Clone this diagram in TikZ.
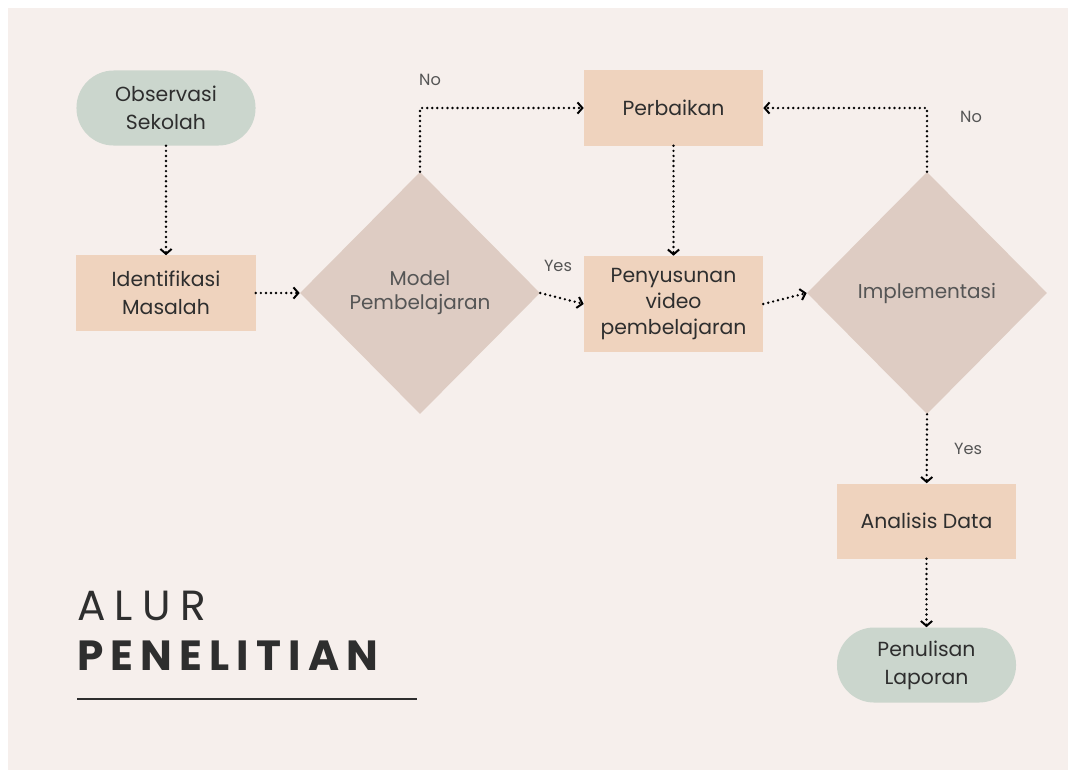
\documentclass[tikz,border=0pt]{standalone}
\usepackage{fontspec}
\setmainfont{Poppins}
\newfontfamily\titulo[LetterSpace=17]{Poppins}
\newfontfamily\tituloa[LetterSpace=22]{Poppins}
\usetikzlibrary{shapes.geometric,arrows.meta}
\definecolor{fondo}{HTML}{F6EFEC}
\definecolor{salvia}{HTML}{CBD6CD}
\definecolor{durazno}{HTML}{EFD3BE}
\definecolor{rosa}{HTML}{DECCC3}
\definecolor{tinta}{HTML}{2E2E2E}
\definecolor{gris}{HTML}{555555}

\begin{document}
\begin{tikzpicture}[
      x=0.025cm, y=-0.025cm,
      caja/.style={fill=durazno, align=center, text=tinta,
                   font=\fontsize{14.5}{20}\selectfont,
                   minimum width=4.475cm, minimum height=1.875cm, inner sep=2pt},
      pildora/.style={caja, fill=salvia, rounded corners=0.93cm},
      rombo/.style={diamond, aspect=1, fill=rosa, align=center, text=gris,
                    font=\fontsize{14.2}{17}\selectfont,
                    minimum width=6cm, minimum height=6.05cm, inner sep=0pt},
      flecha/.style={line width=1.9pt, line cap=round, dash pattern=on 0pt off 3.6pt,
                     -{Straight Barb[length=3.5pt, width=8pt, line width=1.4pt]}},
      etiq/.style={text=gris, font=\fontsize{11.5}{14}\selectfont, inner sep=1pt}
    ]
    \useasboundingbox[fill=white] (0,0) rectangle (1076,778);
    \fill[fondo] (8,8) rectangle (1068,770);

    \node[pildora] (obs)  at (166,108)   {Observasi\\Sekolah};
    \node[caja]    (iden) at (166,293)   {Identifikasi\\Masalah};
    \node[rombo]   (model) at (420,293)  {Model\\Pembelajaran};
    \node[caja]    (perb) at (673.5,108) {Perbaikan};
    \node[caja, minimum height=2.4cm, font=\fontsize{14.5}{18.5}\selectfont]
                   (peny) at (673.5,304) {Penyusunan\\video\\pembelajaran};
    \node[rombo]   (impl) at (927,293)   {Implementasi};
    \node[caja]    (anal) at (926.5,521) {Analisis Data};
    \node[pildora] (lap)  at (926.5,665) {Penulisan\\Laporan};

    \node[etiq] (no1)  at (430,80)  {No};
    \node[etiq] (yes1) at (558,266) {Yes};
    \node[etiq] (no2)  at (971,117) {No};
    \node[etiq] (yes2) at (968,449) {Yes};

    \draw[flecha] (obs) -- (iden);
    \draw[flecha] (iden) -- (model);
    \draw[flecha] (model.east) -- (peny.west);
    \draw[flecha] (model.north) |- (perb.west);
    \draw[flecha] (perb) -- (peny);
    \draw[flecha] (peny.east) -- (impl.west);
    \draw[flecha] (impl.north) |- (perb.east);
    \draw[flecha] (impl.south) -- (anal);
    \draw[flecha] (anal) -- (lap);

    % titulo
    \node[anchor=base west, inner sep=0pt, text=tinta, font=\tituloa\fontsize{30}{30}\selectfont]
      (alur) at (77,620) {ALUR};
    \node[anchor=base west, inner sep=0pt, text=tinta, font=\titulo\bfseries\fontsize{30}{30}\selectfont]
      (pen) at (77,670) {PENELITIAN};
    \draw[tinta, line width=1.1pt] (77,699) -- (417,699);
  \end{tikzpicture}
\end{document}
